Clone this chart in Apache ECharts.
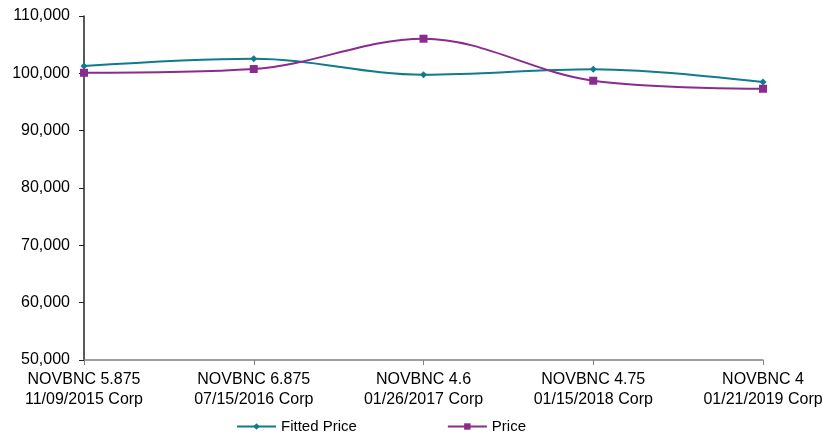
<!DOCTYPE html>
<html><head><meta charset="utf-8">
<script src="https://cdn.jsdelivr.net/npm/echarts@6/dist/echarts.min.js"></script>
<style>html,body{margin:0;padding:0;background:#fff}#c{width:823px;height:437px}</style>
</head><body><div id="c"></div>
<script>
const categories = ["NOVBNC 5.875\n11/09/2015 Corp","NOVBNC 6.875\n07/15/2016 Corp","NOVBNC 4.6\n01/26/2017 Corp","NOVBNC 4.75\n01/15/2018 Corp","NOVBNC 4\n01/21/2019 Corp"];
const fittedPrice = [101270, 102550, 99760, 100700, 98480];
const price = [100100, 100750, 106040, 98710, 97310];
const seriesNames = ["Fitted Price", "Price"];

const chart = echarts.init(document.getElementById('c'), null, {renderer:'canvas'});
const font = 'Liberation Sans, Arial, sans-serif';
chart.setOption({
  animation:false,
  grid:{left:84,right:60,top:16,bottom:77,containLabel:false,outerBoundsMode:'none'},
  legend:{
    left:236, top:419, padding:0, itemWidth:39, itemHeight:8, itemGap:90,
    textStyle:{fontFamily:font,fontSize:15,color:'#000'},
    data:seriesNames
  },
  xAxis:{
    type:'category', data:categories, boundaryGap:false,
    axisLine:{lineStyle:{color:'#808080',width:1.5}},
    axisTick:{show:true,alignWithLabel:true,length:5,lineStyle:{color:'#808080'}},
    axisLabel:{fontFamily:font,fontSize:16,color:'#000',lineHeight:20,margin:10,interval:0}
  },
  yAxis:{
    type:'value', min:50000, max:110000, interval:10000,
    axisLine:{show:true,lineStyle:{color:'#222',width:1.5}},
    axisTick:{show:true,length:5,lineStyle:{color:'#222'}},
    splitLine:{show:false},
    axisLabel:{fontFamily:font,fontSize:16,color:'#000',margin:14,
      formatter:v=>v.toLocaleString('en-US')}
  },
  series:[
    {name:seriesNames[0],type:'line',data:fittedPrice,smooth:0.35,
     symbol:'diamond',symbolSize:7,
     lineStyle:{color:'#0f7b8c',width:2},itemStyle:{color:'#0f7b8c'}},
    {name:seriesNames[1],type:'line',data:price,smooth:0.35,
     symbol:'rect',symbolSize:8,
     lineStyle:{color:'#8b2a8f',width:2},itemStyle:{color:'#8b2a8f'}}
  ]
});
</script></body></html>
